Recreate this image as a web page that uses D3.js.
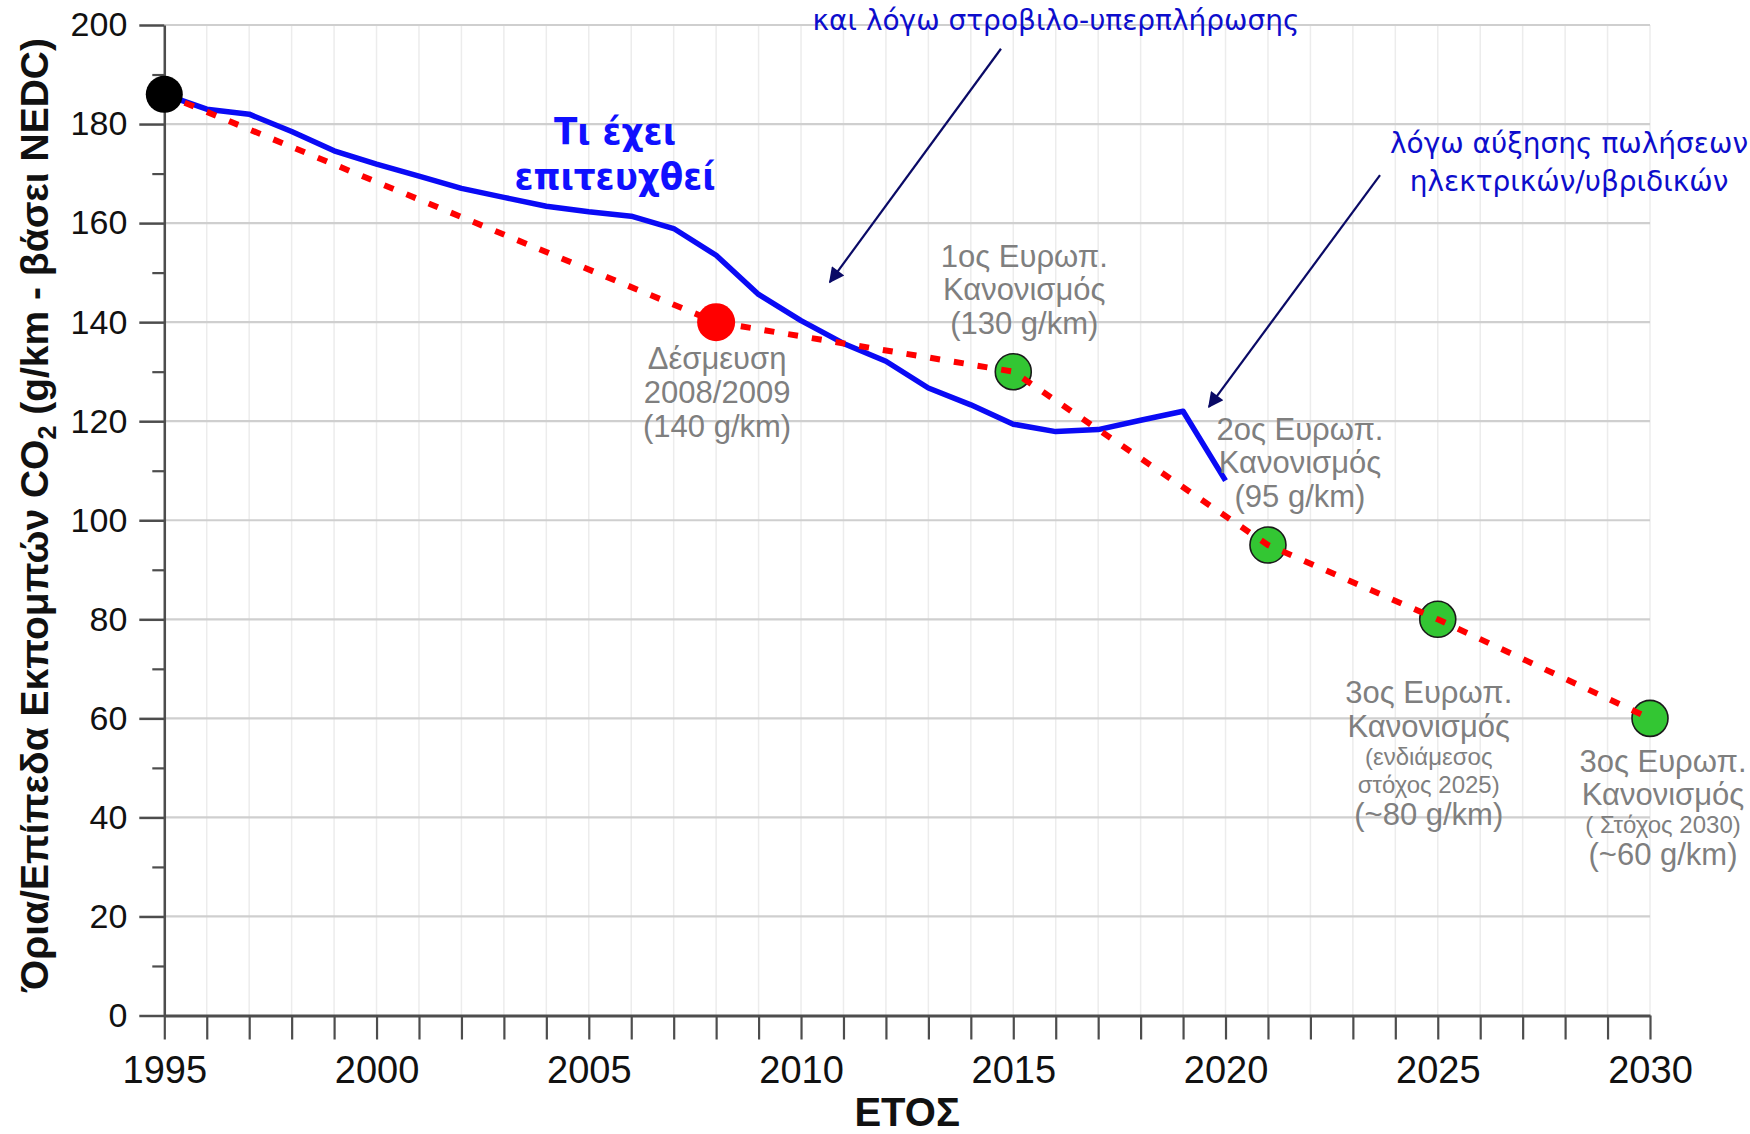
<!DOCTYPE html>
<html>
<head>
<meta charset="utf-8">
<script src="https://cdn.jsdelivr.net/npm/d3@7"></script>
<style>
  html, body { margin: 0; padding: 0; background: #fff; }
  svg { display: block; }
</style>
</head>
<body>
<svg id="chart" width="1750" height="1134"></svg>
<script>
// Achieved average new-car CO2 emissions (NEDC basis), g/km
const achievedYears  = [1995, 1996, 1997, 1998, 1999, 2000, 2001, 2002, 2003, 2004, 2005, 2006, 2007,
                        2008, 2009, 2010, 2011, 2012, 2013, 2014, 2015, 2016, 2017, 2018, 2019, 2020];
const achievedValues = [186, 183, 182, 178.5, 174.6, 171.9, 169.5, 167, 165.2, 163.4, 162.3, 161.4, 158.9,
                        153.5, 145.6, 140.3, 135.7, 132.1, 126.7, 123.3, 119.4, 117.9, 118.3, 120.2, 122, 108];

// Commitment / regulation pathway
const targetYears  = [1995, 2008, 2015, 2021, 2025, 2030];
const targetValues = [186, 140, 130, 95, 80, 60];

// EU regulation milestones (green markers)
const regulationYears  = [2015, 2021, 2025, 2030];
const regulationValues = [130, 95, 80, 60];

// Starting point and voluntary commitment
const startYear = 1995, startValue = 186;
const commitmentYear = 2008, commitmentValue = 140;

// Axis ticks
const yearTicks = d3.range(1995, 2031);
const yearLabels = [1995, 2000, 2005, 2010, 2015, 2020, 2025, 2030];
const valueTicks = [0, 20, 40, 60, 80, 100, 120, 140, 160, 180, 200];
const minorValueTicks = [10, 30, 50, 70, 90, 110, 130, 150, 170, 190];

// Grey milestone labels
const milestoneLabels = [
  { year: 2008, value: 140, dx: 1,   dy: 47,   lines: ["Δέσμευση", "2008/2009", "(140 g/km)"], sizes: [31, 31, 31], gaps: [34, 34] },
  { year: 2015, value: 130, dx: 11,  dy: -105, lines: ["1ος Ευρωπ.", "Κανονισμός", "(130 g/km)"], sizes: [31, 31, 31], gaps: [33, 34] },
  { year: 2021, value: 95,  dx: 32,  dy: -105, lines: ["2ος Ευρωπ.", "Κανονισμός", "(95 g/km)"], sizes: [31, 31, 31], gaps: [33, 34] },
  { year: 2025, value: 80,  dx: -9,  dy: 84,   lines: ["3ος Ευρωπ.", "Κανονισμός", "(ενδιάμεσος", "στόχος 2025)", "(~80 g/km)"], sizes: [31, 31, 24, 24, 31], gaps: [34, 28, 28, 32] },
  { year: 2030, value: 60,  dx: 13,  dy: 54,   lines: ["3ος Ευρωπ.", "Κανονισμός", "( Στόχος 2030)", "(~60 g/km)"], sizes: [31, 31, 24, 31], gaps: [33, 28, 32] }
];

const svg = d3.select("#chart");
const width = 1750, height = 1134;
svg.append("rect").attr("width", width).attr("height", height).attr("fill", "#fff");

const x = d3.scaleLinear().domain([1995, 2030]).range([164.3, 1650]);
const y = d3.scaleLinear().domain([0, 200]).range([1015.5, 25]);

// Vertical yearly gridlines
svg.append("g")
  .selectAll("line").data(yearTicks).join("line")
  .attr("x1", d => x(d)).attr("x2", d => x(d))
  .attr("y1", y(0)).attr("y2", y(200))
  .attr("stroke", "#ececec").attr("stroke-width", 1.5);

// Horizontal gridlines
svg.append("g")
  .selectAll("line").data(valueTicks.filter(d => d > 0)).join("line")
  .attr("x1", x(1995)).attr("x2", x(2030))
  .attr("y1", d => y(d)).attr("y2", d => y(d))
  .attr("stroke", "#cfcfcf").attr("stroke-width", 2.2);

const axisColor = "#4d4d4d";
const tickFont = "'Liberation Sans', Arial, sans-serif";

// Y axis: major ticks with labels
const yAxis = svg.append("g")
  .attr("transform", `translate(${x(1995)},0)`)
  .call(d3.axisLeft(y).tickValues(valueTicks).tickSize(25).tickSizeOuter(0).tickPadding(12).tickFormat(d3.format("d")));
yAxis.select(".domain").attr("stroke", axisColor).attr("stroke-width", 2.5);
yAxis.selectAll(".tick line").attr("stroke", axisColor).attr("stroke-width", 2.5);
yAxis.selectAll(".tick text")
  .attr("fill", "#111").attr("font-family", tickFont).attr("font-size", 34);

// Y axis: minor ticks
const yMinor = svg.append("g")
  .attr("transform", `translate(${x(1995)},0)`)
  .call(d3.axisLeft(y).tickValues(minorValueTicks).tickSize(12).tickSizeOuter(0).tickFormat(""));
yMinor.select(".domain").remove();
yMinor.selectAll(".tick line").attr("stroke", axisColor).attr("stroke-width", 2.2);

// X axis
const xAxis = svg.append("g")
  .attr("transform", `translate(0,${y(0)})`)
  .call(d3.axisBottom(x).tickValues(yearTicks).tickSize(24).tickSizeOuter(0).tickPadding(17)
    .tickFormat(d => yearLabels.includes(d) ? String(d) : ""));
xAxis.select(".domain").attr("stroke", axisColor).attr("stroke-width", 3);
xAxis.selectAll(".tick line").attr("stroke", axisColor).attr("stroke-width", 2.2);
xAxis.selectAll(".tick text")
  .attr("fill", "#111").attr("font-family", tickFont).attr("font-size", 38);

// Axis titles
svg.append("text")
  .attr("x", x(2012.5)).attr("y", 1126)
  .attr("text-anchor", "middle")
  .attr("font-family", tickFont).attr("font-weight", "bold").attr("font-size", 40)
  .attr("fill", "#111")
  .text("ΕΤΟΣ");

const yTitle = svg.append("text")
  .attr("transform", "translate(48,515) rotate(-90)")
  .attr("text-anchor", "middle")
  .attr("font-family", tickFont).attr("font-weight", "bold").attr("font-size", 39)
  .attr("fill", "#111");
yTitle.append("tspan").text("Όρια/Επίπεδα Εκπομπών CO");
yTitle.append("tspan").attr("font-size", 25).attr("dy", 8).text("2");
yTitle.append("tspan").attr("dy", -8).text(" (g/km - βάσει NEDC)");

// Achieved emissions line
const line = d3.line().x(d => x(d[0])).y(d => y(d[1]));
svg.append("path")
  .datum(d3.zip(achievedYears, achievedValues))
  .attr("d", line)
  .attr("fill", "none")
  .attr("stroke", "#0a0af5")
  .attr("stroke-width", 5.5)
  .attr("stroke-linejoin", "round");

// Regulation milestones
svg.append("g")
  .selectAll("circle").data(d3.zip(regulationYears, regulationValues)).join("circle")
  .attr("cx", d => x(d[0])).attr("cy", d => y(d[1])).attr("r", 18)
  .attr("fill", "#33c633").attr("stroke", "#1a1a1a").attr("stroke-width", 1.6);

// Target pathway (dashed)
svg.append("path")
  .datum(d3.zip(targetYears, targetValues))
  .attr("d", line)
  .attr("fill", "none")
  .attr("stroke", "#ff0000")
  .attr("stroke-width", 6)
  .attr("stroke-dasharray", "10 14")
  .attr("stroke-dashoffset", -22);

// Commitment point
svg.append("circle")
  .attr("cx", x(commitmentYear)).attr("cy", y(commitmentValue)).attr("r", 19)
  .attr("fill", "#ff0000");

// Starting point
svg.append("circle")
  .attr("cx", x(startYear)).attr("cy", y(startValue)).attr("r", 18.5)
  .attr("fill", "#000");

// Grey milestone labels
const labelFont = "'Liberation Sans', Arial, sans-serif";
milestoneLabels.forEach(lab => {
  const t = svg.append("text")
    .attr("text-anchor", "middle")
    .attr("font-family", labelFont)
    .attr("fill", "#7f7f7f");
  const cx = x(lab.year) + lab.dx;
  let cy = y(lab.value) + lab.dy;
  lab.lines.forEach((s, i) => {
    if (i > 0) cy += lab.gaps[i - 1];
    t.append("tspan").attr("x", cx).attr("y", cy).attr("font-size", lab.sizes[i]).text(s);
  });
});

// Blue annotations
const headingFont = "'DejaVu Sans Condensed', 'DejaVu Sans', sans-serif";
const noteFont = "'DejaVu Sans', sans-serif";
const heading = svg.append("text")
  .attr("text-anchor", "middle")
  .attr("font-family", headingFont).attr("font-weight", "bold").attr("font-size", 38)
  .attr("fill", "#1010ff");
heading.append("tspan").attr("x", 615).attr("y", 144).text("Τι έχει");
heading.append("tspan").attr("x", 615).attr("y", 189).text("επιτευχθεί");

const noteColor = "#0d0dcc";
svg.append("text")
  .attr("x", 1056).attr("y", 30)
  .attr("text-anchor", "middle")
  .attr("font-family", noteFont).attr("font-size", 28)
  .attr("fill", noteColor)
  .text("και λόγω στροβιλο-υπερπλήρωσης");

const note2 = svg.append("text")
  .attr("text-anchor", "middle")
  .attr("font-family", noteFont).attr("font-size", 28)
  .attr("fill", noteColor);
note2.append("tspan").attr("x", 1569).attr("y", 153).text("λόγω αύξησης πωλήσεων");
note2.append("tspan").attr("x", 1569).attr("y", 191).text("ηλεκτρικών/υβριδικών");

// Arrows pointing at the achieved line
const arrowColor = "#0a0a66";
svg.append("defs").append("marker")
  .attr("id", "arrowhead")
  .attr("viewBox", "0 0 10 10")
  .attr("refX", 9).attr("refY", 5)
  .attr("markerWidth", 9).attr("markerHeight", 7)
  .attr("markerUnits", "strokeWidth")
  .attr("orient", "auto")
  .append("path").attr("d", "M0,0 L10,5 L0,10 Z").attr("fill", arrowColor);

const arrows = [
  { from: [2014.71, 195.2], to: [2010.68, 148.1] },
  { from: [2023.64, 169.7], to: [2019.61, 122.9] }
];
svg.append("g")
  .selectAll("line").data(arrows).join("line")
  .attr("x1", d => x(d.from[0])).attr("y1", d => y(d.from[1]))
  .attr("x2", d => x(d.to[0])).attr("y2", d => y(d.to[1]))
  .attr("stroke", arrowColor).attr("stroke-width", 2.2)
  .attr("marker-end", "url(#arrowhead)");
</script>
</body>
</html>
